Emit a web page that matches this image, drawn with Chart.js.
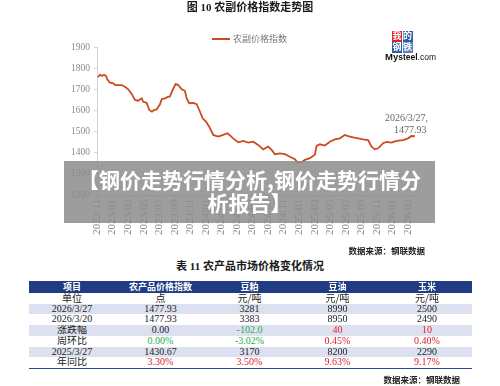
<!DOCTYPE html>
<html>
<head>
<meta charset="utf-8">
<script src="https://cdn.jsdelivr.net/npm/chart.js@4.4.1/dist/chart.umd.min.js"></script>
<style>
  html, body { margin: 0; padding: 0; background: #fff; }
  body { width: 500px; height: 386px; position: relative; overflow: hidden;
         font-family: "Liberation Serif", "Noto Sans CJK SC", serif; color: #222; }
  .abs { position: absolute; white-space: nowrap; }
  #chartBox { position: absolute; left: 0; top: 0; width: 500px; height: 245px; }
  .title { font-weight: bold; font-size: 11px; color: #1a1a1a; }
  .src { font-weight: bold; font-size: 8.5px; color: #222; }
  #banner { position: absolute; left: 64px; top: 161px; width: 371px; height: 62px;
            background: rgba(138,138,138,0.84); color: #fff; text-align: center;
            font-family: "Noto Sans CJK SC", sans-serif; font-weight: bold; font-size: 21px;
            line-height: 23px; padding-top: 7px; box-sizing: border-box; white-space: nowrap; }
  table { position: absolute; left: 29px; top: 281px; width: 443px; border-collapse: collapse;
          table-layout: fixed; font-size: 10px; border-bottom: 1.5px solid #2b4a8e; }
  td, th { text-align: center; padding: 0; height: 10.7px; line-height: 10.7px; overflow: hidden; }
  th { background: #1f3c84; color: #fff; font-weight: bold; height: 12px; line-height: 12px;
       font-family: "Noto Sans CJK SC", sans-serif; font-size: 9px; }
  tr.alt td { background: #dde1ef; }
  .g { color: #22b04a; } .r { color: #e0222a; }
  .logo div { position: absolute; width: 10px; height: 10.5px; color: #fff; font-size: 9px; line-height: 10.5px;
              text-align: center; font-family: "Noto Sans CJK SC", sans-serif; font-weight: bold; }
</style>
</head>
<body>
<div id="chartBox"><canvas id="c" width="500" height="245"></canvas></div>

<div class="abs title" style="left:0;width:500px;text-align:center;top:0px;line-height:14px;">图 10 农副价格指数走势图</div>

<div class="abs" style="left:212px;top:38px;width:18px;height:2px;background:#cc4a20;"></div>
<div class="abs" style="left:233px;top:33px;font-size:9px;line-height:12px;color:#777;font-family:'Noto Sans CJK SC',sans-serif;">农副价格指数</div>

<div class="abs logo" style="left:392px;top:31px;">
  <div style="left:0;top:0;background:#d7262b;">我</div>
  <div style="left:10.5px;top:0;background:#2d5ba6;">的</div>
  <div style="left:0;top:11px;background:#2d5ba6;">钢</div>
  <div style="left:10.5px;top:11px;background:#5a80bf;">铁</div>
</div>
<div class="abs" style="left:385px;top:52px;font-family:'Liberation Sans',sans-serif;font-size:8.5px;line-height:10px;color:#111;"><b style="font-size:9.5px;">My</b><b>steel</b>.com</div>

<div class="abs" style="left:385px;top:112px;font-size:10px;line-height:12px;color:#666;">2026/3/27,</div>
<div class="abs" style="left:394px;top:124px;font-size:10px;line-height:12px;color:#666;">1477.93</div>

<div class="abs src" style="right:75px;top:245px;line-height:12px;">数据来源：钢联数据</div>

<div id="banner">【钢价走势行情分析,钢价走势行情分<br>析报告】</div>

<div class="abs title" style="left:0;width:500px;text-align:center;top:260px;line-height:13px;">表 11 农产品市场价格变化情况</div>

<table id="tbl">
  <colgroup><col style="width:86px"><col style="width:91px"><col style="width:87px"><col style="width:89px"><col style="width:90px"></colgroup>
  <thead><tr id="hdr"></tr></thead>
  <tbody id="tb"></tbody>
</table>

<div class="abs src" style="right:40px;top:374px;line-height:12px;">数据来源：钢联数据</div>

<script>
// ---- chart data ----
const xTickLabels = ["2022/11","2023/01","2023/03","2023/05","2023/07","2023/09","2023/11",
  "2024/01","2024/03","2024/05","2024/07","2024/09","2024/11",
  "2025/01","2025/03","2025/05","2025/07","2025/09","2025/11","2026/01","2026/03"];
// months elapsed since 2022/11
const monthOffsets = [0.1,0.4,0.64,0.9,1.16,1.32,1.67,2.1,2.35,3.17,
  3.6,4.02,4.46,4.88,5.31,5.75,5.95,6.39,6.72,7.07,
  7.33,7.67,8.1,8.32,8.74,9.16,9.38,9.73,10.12,10.45,
  10.89,11.31,11.53,11.86,12.38,12.81,13.15,13.59,14.01,14.43,
  14.95,15.59,16.23,16.8,17.52,18.16,18.8,19.45,20.09,20.73,
  21.38,22.02,22.46,22.88,23.52,24.16,24.81,25.45,25.8,26.31,
  26.74,27.38,28.02,28.24,28.66,29.31,29.95,30.59,31.23,31.88,
  32.3,32.94,33.59,34.23,34.87,35.31,35.73,36.16,36.8,37.24,
  37.88,38.52,39.37,40.01,40.45,40.87];
const indexValues = [1757,1769,1763,1769,1763,1747,1731,1728,1720,1720,
  1712,1700,1678,1650,1646,1657,1641,1636,1602,1594,
  1602,1605,1629,1653,1657,1665,1665,1697,1725,1720,
  1700,1693,1657,1634,1636,1630,1602,1563,1547,1523,
  1484,1476,1484,1492,1468,1449,1456,1448,1452,1437,
  1416,1429,1413,1393,1397,1393,1381,1369,1353,1355,
  1366,1374,1390,1432,1440,1434,1452,1463,1468,1484,
  1479,1473,1468,1463,1460,1429,1416,1421,1445,1451,
  1448,1456,1460,1468,1479,1477.93];

// ---- table data ----
const tableHeaders = ["项目","农产品价格指数","豆粕","豆油","玉米"];
const rowLabels = ["单位","2026/3/27","2026/3/20","涨跌幅","周环比","2025/3/27","年同比"];
const colIndex = ["点","1477.93","1477.93","0.00","0.00%","1430.67","3.30%"];
const colMeal  = ["元/吨","3281","3383","-102.0","-3.02%","3170","3.50%"];
const colOil   = ["元/吨","8990","8950","40","0.45%","8200","9.63%"];
const colCorn  = ["元/吨","2500","2490","10","0.40%","2290","9.17%"];

// build table
const hdr = document.getElementById('hdr');
tableHeaders.forEach(h => { const th = document.createElement('th'); th.textContent = h; hdr.appendChild(th); });
const tb = document.getElementById('tb');
function cls(v, r) {
  if (r === 4) return v.startsWith('-') || v === '0.00%' ? 'g' : 'r';
  if (r === 3) return v.startsWith('-') ? 'g' : (v === '0.00' ? '' : 'r');
  if (r === 6) return 'r';
  return '';
}
rowLabels.forEach((lab, r) => {
  const tr = document.createElement('tr');
  if (r % 2 === 1) tr.className = 'alt';
  [lab, colIndex[r], colMeal[r], colOil[r], colCorn[r]].forEach((v, c) => {
    const td = document.createElement('td');
    td.textContent = v;
    if (c > 0) td.className = cls(v, r);
    if (r === 0) td.style.fontFamily = "'Noto Sans CJK SC', sans-serif";
    tr.appendChild(td);
  });
  tb.appendChild(tr);
});

// build chart
const pts = monthOffsets.map((m, i) => ({ x: m, y: indexValues[i] }));
new Chart(document.getElementById('c'), {
  type: 'line',
  data: { datasets: [{ label: '农副价格指数', data: pts, borderColor: '#cc4a20', borderWidth: 1.8,
    pointRadius: 0, tension: 0, fill: false }] },
  options: {
    responsive: false, animation: false, devicePixelRatio: 1,
    layout: { padding: { left: 0, top: 47, right: 85, bottom: 0 } },
    plugins: { legend: { display: false }, tooltip: { enabled: false } },
    scales: {
      x: {
        type: 'linear', min: 0, max: 40.9,
        afterBuildTicks: s => { s.ticks = xTickLabels.map((_, i) => ({ value: i * 2 })); },
        afterFit: s => { s.height = 50; },
        ticks: { autoSkip: false, minRotation: 90, maxRotation: 90, padding: 1,
          color: '#8c8c8c', font: { family: 'Liberation Serif', size: 11 },
          callback: (v) => xTickLabels[Math.round(v / 2)] },
        grid: { drawOnChartArea: false, tickLength: 3, color: '#d4d4d4' },
        border: { color: '#d4d4d4', width: 1 }
      },
      y: {
        min: 1200, max: 1900,
        afterFit: s => { s.width = 97; },
        ticks: { stepSize: 100, padding: 4, color: '#8c8c8c', font: { family: 'Liberation Serif', size: 9.5 },
          callback: (v) => String(v) },
        grid: { drawOnChartArea: false, tickLength: 3, color: '#d4d4d4' },
        border: { color: '#d4d4d4', width: 1 }
      }
    }
  }
});
</script>
</body>
</html>
